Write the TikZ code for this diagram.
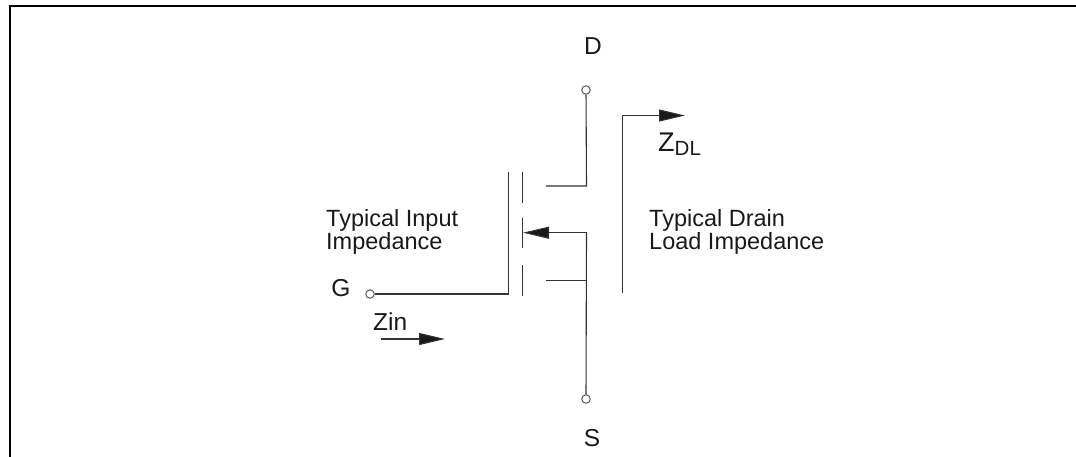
\documentclass[tikz,border=0pt]{standalone}
\usepackage{fontspec}
\setmainfont{Liberation Sans}
\usetikzlibrary{arrows.meta}
\tikzset{
    wire/.style={line width=1.1pt,draw=black!80},
    bigarrow/.style={wire,-{Triangle[length=26pt,width=12pt,fill=black!90]}},
    term/.style={circle,draw=black!65,line width=1pt,fill=white,inner sep=0pt,minimum size=8.5pt},
    lbl/.style={font=\fontsize{23.5}{22.5}\selectfont,inner sep=0pt,text=black!90},
    biglbl/.style={font=\fontsize{24.5}{24}\selectfont,inner sep=0pt,text=black!90},
}
\begin{document}
\begin{tikzpicture}[x=1pt,y=-1pt]
    \useasboundingbox (0,0) rectangle (1076,456);
    \draw[line width=2pt] (10,480) -- (10,6) -- (1090,6);

    \node[term] (D) at (586,90) {};
    \node[term] (S) at (586,399) {};
    \node[term] (G) at (370,294) {};
    \coordinate (gatetop) at (508.5,172);
    \coordinate (gatebot) at (508.5,294);
    \coordinate (drainstub) at (546,186);
    \coordinate (drainknee) at (586.5,186);
    \coordinate (bodytip) at (523,232.7);
    \coordinate (bodyknee) at (586.5,232.7);
    \coordinate (sourcestub) at (546,280.7);
    \coordinate (sourceknee) at (586.5,280.7);

    \draw[wire] (G) -- (gatebot) -- (gatetop);
    \draw[wire] (522.7,172) -- (522.7,202.5);
    \draw[wire] (522.7,218) -- (522.7,248);
    \draw[wire] (522.7,265) -- (522.7,295.5);
    \draw[wire] (D) -- (drainknee) -- (drainstub);
    \draw[wire] (S) -- (bodyknee);
    \draw[wire] (sourceknee) -- (sourcestub);
    \draw[bigarrow] (bodyknee) -- (bodytip);

    \coordinate (loadbot) at (622.3,292.7);
    \coordinate (loadknee) at (622.3,115.5);
    \coordinate (loadtip) at (685,115.5);
    \draw[bigarrow] (loadbot) -- (loadknee) -- (loadtip);
    \coordinate (zinstart) at (380.7,339);
    \coordinate (zintip) at (445,339);
    \draw[bigarrow] (zinstart) -- (zintip);

    \node[biglbl,anchor=base] (Dlbl) at (593,54) {D};
    \node[biglbl,anchor=base] (Slbl) at (592,446) {S};
    \node[biglbl,anchor=base] (Glbl) at (341,296) {G};
    \node[biglbl,anchor=base west] (Zinlbl) at (373,330) {Zin};
    \node[biglbl,anchor=base west] (Zdl) at (658,151.5) {\fontsize{27}{27}\selectfont Z\raisebox{-3.5pt}{\fontsize{20.5}{20}\selectfont DL}};
    \node[lbl,anchor=base west,align=left] (inlbl) at (326,249) {Typical Input\\Impedance};
    \node[lbl,anchor=base west,align=left] (loadlbl) at (649,249) {Typical Drain\\Load Impedance};
\end{tikzpicture}
\end{document}
